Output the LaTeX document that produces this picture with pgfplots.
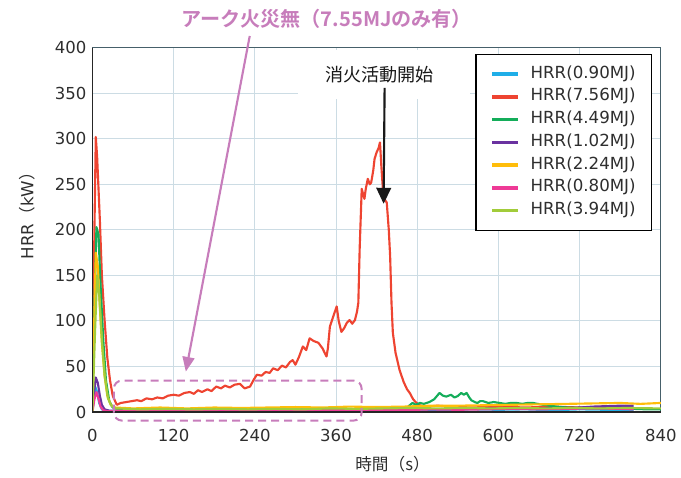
\documentclass[border=0pt]{standalone}
\usepackage{fontspec}
\usepackage{pgfplots}
\pgfplotsset{compat=1.18}
\usetikzlibrary{arrows.meta}
\setmainfont{DejaVu Sans}
\newfontfamily\cjk{Noto Sans CJK JP}
\newfontfamily\cjkb{Noto Sans CJK JP Bold}
\definecolor{cBlue}{HTML}{1FAEE8}
\definecolor{cRed}{HTML}{EE4431}
\definecolor{cGreen}{HTML}{14AD5A}
\definecolor{cPurple}{HTML}{6A32A0}
\definecolor{cGold}{HTML}{FFBD0A}
\definecolor{cPink}{HTML}{EE3A96}
\definecolor{cLime}{HTML}{A2CC3A}
\definecolor{cAnno}{HTML}{C77DBB}
\definecolor{cGrid}{HTML}{CCDCE4}
\definecolor{cFrame}{HTML}{46606A}
\definecolor{cText}{HTML}{2E2E2E}
\begin{document}
\begin{tikzpicture}
\begin{axis}[
  scale only axis,
  width=426.75pt, height=273.6pt,
  at={(69.375pt,49.125pt)}, anchor=south west,
  xmin=0, xmax=840, ymin=0, ymax=400,
  xtick={0,120,...,840}, ytick={0,50,...,400},
  major tick length=0pt,
  grid=major,
  major grid style={cGrid, line width=0.7pt},
  axis line style={cFrame, line width=1pt},
  clip mode=individual,
  /pgf/number format/assume math mode=true,
  tick label style={font=\fontsize{12.4}{14}\selectfont, text=cText},
  xticklabel style={yshift=-9pt},
  yticklabel style={xshift=-1pt},
  xlabel={時間{\cjk（}s{\cjk）}},
  ylabel={HRR{\cjk（}kW{\cjk）}},
  xlabel style={font=\cjk\fontsize{12.5}{14}\selectfont, text=cText, at={(axis description cs:0.528,-0.1439)}, anchor=center},
  ylabel style={font=\fontsize{12.5}{14}\selectfont, text=cText, at={(axis description cs:-0.115,0.55)}, anchor=center},
  legend cell align=left,
  legend image code/.code={\draw[#1, line width=2.6pt] (0pt,0pt) -- (19.5pt,0pt);},
  legend style={at={(rel axis cs:0.985,0.983)}, anchor=north east,
    draw=black, line width=1pt, fill=white,
    inner xsep=11pt, inner ysep=7.7pt, row sep=3.1pt, column sep=7pt,
    font=\fontsize{12.5}{14}\selectfont, text=cText,
    nodes={inner sep=1pt, text height=9pt, text depth=3pt}},
  every axis plot/.append style={line width=1.6pt, line join=round},
]
% HRR(0.90MJ)
\addplot[cBlue] coordinates {(0,0)(2,15)(4,28)(7,22)(10,10)(14,3)(20,1.5)(40,1)(80,2)(120,1.5)(160,2)(200,1)(240,2)(280,1.5)(320,2.5)(360,2)(400,3)(440,2.5)(480,3)(520,2)(560,3)(600,2.5)(640,3)(680,2)(720,3)(760,2.5)(800,2)};
\addlegendentry{HRR(0.90MJ)}
% HRR(7.56MJ)
\addplot[cRed] coordinates {(0,0)(3,200)(5,302)(7,280)(11,211)(14,150)(18,101)(22,60)(26,35)(30,18)(36,8)(42,10)(50,11)(58,12)(66,13)(72,12)(80,15)(88,14)(96,16)(104,15)(112,18)(120,19)(128,18)(136,21)(144,22)(150,20)(156,24)(162,22)(170,25)(176,23)(183,28)(190,26)(196,29)(203,27)(210,30)(218,31)(225,26)(233,28)(238,35)(243,41)(250,40)(256,44)(262,43)(267,48)(274,46)(280,51)(286,49)(292,55)(296,57)(300,52)(305,60)(311,72)(316,68)(321,81)(327,78)(334,76)(340,70)(346,61)(348,70)(351,94)(356,105)(361,116)(364,100)(368,88)(372,92)(376,98)(380,101)(384,97)(388,101)(391,110)(393,120)(395,180)(398,245)(402,234)(404,245)(407,256)(410,250)(412,252)(415,265)(417,278)(420,285)(423,290)(425,296)(427,270)(430,237)(433,232)(435,230)(438,200)(440,171)(442,120)(444,87)(448,65)(454,46)(460,33)(465,25)(469,21)(474,14)(479,10)(485,7)(495,6)(510,7)(530,6)(560,5)(600,6)(640,5)(680,6)(720,5)(760,6)(790,5)};
\addlegendentry{HRR(7.56MJ)}
% HRR(4.49MJ)
\addplot[cGreen] coordinates {(0,0)(3,120)(6,203)(9,195)(12,140)(16,80)(20,35)(25,12)(30,5)(40,3)(80,3)(120,2.5)(160,3)(200,2)(240,3)(280,2.5)(320,3)(360,3.5)(400,3)(440,4)(465,5)(473,10)(478,8)(484,10)(490,9)(498,11)(505,14)(513,21)(518,18)(523,17)(530,19)(535,16)(540,17.6)(545,21)(549,19)(553,21)(557,16)(560,13)(565,11)(569,10)(573,12)(577,12)(585,10)(593,11)(602,10)(610,9)(618,10)(627,10)(635,9)(643,10)(651,10)(658,9)(666,8)(676,7)(686,6)(700,5)(740,4)(780,4)(820,3)(840,3)};
\addlegendentry{HRR(4.49MJ)}
% HRR(1.02MJ)
\addplot[cPurple] coordinates {(0,0)(3,25)(5,38)(8,32)(11,18)(14,8)(18,3)(25,1.5)(60,2)(100,1.5)(140,2)(180,1.5)(220,2)(260,2.5)(300,2)(340,2.5)(380,3)(420,3)(460,3.5)(500,3)(540,3.5)(580,4)(620,3.5)(660,4)(700,4.5)(720,5)(740,6)(760,6.5)(780,7)(800,7)};
\addlegendentry{HRR(1.02MJ)}
% HRR(2.24MJ)
\addplot[cGold] coordinates {(0,0)(3,110)(5,175)(8,160)(11,115)(14,75)(18,40)(22,18)(27,8)(33,5)(60,4)(100,5)(140,4)(180,5)(220,4.5)(260,5)(300,5.5)(340,5)(380,6)(420,5.5)(460,6)(500,7)(540,7)(580,7.5)(620,8)(660,8.5)(700,9)(740,9.5)(780,10)(810,9)(840,10)};
\addlegendentry{HRR(2.24MJ)}
% HRR(0.80MJ)
\addplot[cPink] coordinates {(0,0)(3,14)(6,22)(9,15)(12,6)(16,2)(22,1)(60,1.5)(100,1)(140,1.5)(180,1)(220,1.5)(260,2)(300,1.5)(340,2)(380,2)(420,2.5)(460,2)(500,3)(540,2.5)(580,3)(620,3.5)(660,3)(700,3.5)(740,4)(780,3.5)(800,3)};
\addlegendentry{HRR(0.80MJ)}
% HRR(3.94MJ)
\addplot[cLime] coordinates {(0,0)(4,90)(7,150)(10,130)(14,80)(18,40)(23,15)(28,7)(35,4)(70,3)(110,3.5)(150,3)(190,3.5)(230,3)(270,3.5)(310,3)(350,4)(390,3.5)(430,4)(470,4.5)(510,4)(550,4.5)(590,4)(630,4.5)(670,4)(710,4.5)(750,4)(790,4.5)(840,4)};
\addlegendentry{HRR(3.94MJ)}
\draw[black!85, line width=1.3pt] (rel axis cs:0,1) -- (rel axis cs:0,0) -- (rel axis cs:1,0);
\end{axis}
\begin{scope}[x=0.75pt,y=0.75pt]
\path[use as bounding box] (0,0) rectangle (681,478);
% white patch behind annotation text
\fill[white] (298,379) rectangle (470,428);
\node[font=\cjk\fontsize{13.6}{15}\selectfont, text=black!90] at (380,403) {消火活動開始};
\draw[black!90, line width=1.6pt, -{Triangle[length=12pt,width=11pt]}] (385,390) -- (384,274);
% pink annotation
\node[font=\cjkb\fontsize{15.1}{16}\selectfont, text=cAnno] at (327,459) {アーク火災無（7.55MJのみ有）};
\draw[cAnno, line width=1.6pt, -{Triangle[length=11pt,width=9pt]}] (250,442) -- (186,106);
\draw[cAnno, line width=1.5pt, dash pattern=on 6pt off 3.8pt, rounded corners=6pt] (114,57) rectangle (362,97);
\end{scope}
\end{tikzpicture}
\end{document}
